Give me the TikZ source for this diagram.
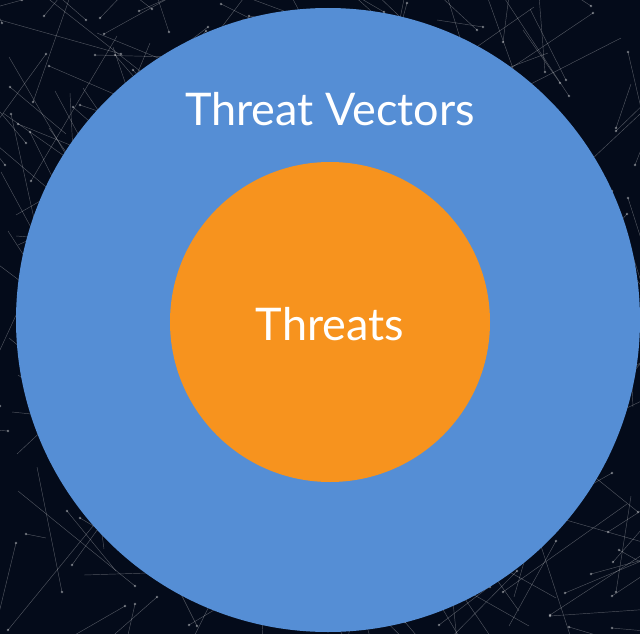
\documentclass[tikz,border=0pt]{standalone}
\usepackage{fontspec}
\setmainfont{Lato}
\definecolor{netbg}{HTML}{040B1A}
\definecolor{vecblue}{HTML}{558ED5}
\definecolor{threatorange}{HTML}{F7931E}
\tikzset{
  ring/.style={circle, inner sep=0pt},
  ringlabel/.style={anchor=base, text=white, font=\fontsize{45}{52}\selectfont},
  netline/.style={white, opacity=.3, line width=.45pt}
}
\begin{document}
\begin{tikzpicture}[x=1pt,y=-1pt]
\useasboundingbox (0,0) rectangle (640,634);
\clip (0,0) rectangle (640,634);
\fill[netbg] (0,0) rectangle (640,634);
% background network
\pgfmathsetseed{42}
\foreach \i in {1,...,300} {
  \pgfmathsetmacro{\ax}{random(0,640)}
  \pgfmathsetmacro{\ay}{random(0,634)}
  \pgfmathsetmacro{\bx}{\ax+random(-160,160)}
  \pgfmathsetmacro{\by}{\ay+random(-160,160)}
  \draw[netline] (\ax,\ay) -- (\bx,\by);
  \fill[white, opacity=.4] (\ax,\ay) circle (1.3);
}
% rings
\node[ring, fill=vecblue, minimum size=624pt] (vectors) at (328,320) {};
\node[ring, fill=threatorange, minimum size=320pt] (threats) at (330,322) {};
\node[ringlabel] (vectorslabel) at (330,125) {Threat Vectors};
\node[ringlabel] (threatslabel) at (330,340) {Threats};
\end{tikzpicture}
\end{document}
